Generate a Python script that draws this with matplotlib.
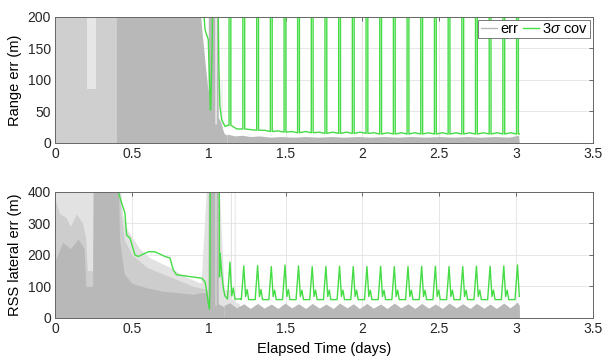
import matplotlib.pyplot as plt
from matplotlib.lines import Line2D

plt.rcParams['font.family'] = ['Liberation Sans', 'DejaVu Sans']
plt.rcParams['font.size'] = 10
plt.rcParams['mathtext.fontset'] = 'custom'
plt.rcParams['mathtext.rm'] = 'Liberation Sans'
plt.rcParams['mathtext.it'] = 'Liberation Sans:italic'

GRAY = '#b8b8b8'
GREEN = '#45dc45'

# === Pass times (days) where the 3-sigma bound spikes ===
pass_days = [1.138, 1.228, 1.318, 1.407, 1.496, 1.584, 1.673, 1.762, 1.851, 1.940, 2.029,
             2.118, 2.207, 2.296, 2.385, 2.474, 2.563, 2.652, 2.741, 2.830, 2.919, 3.008]

# === Range error: Monte Carlo cloud (upper edges of the shaded traces) ===
rng_faint_t = [0.00, 0.40, 0.40, 1.078, 1.080, 1.086, 1.088]
rng_faint_hi = [250, 250, 0, 0, 100, 100, 0]
rng_sparse_t = [0.00, 0.21, 0.21, 0.27, 0.27, 0.405]
rng_sparse_hi = [250, 250, 85, 85, 250, 250]
rng_dense_t = [0.40, 0.93, 0.955, 0.975, 0.99, 0.996, 0.998, 1.040, 1.041, 1.048, 1.049,
               1.060, 1.062, 1.075, 1.090, 1.100, 1.120]
rng_dense_hi = [250, 250, 180, 130, 95, 80, 250, 250, 30, 30, 250,
                250, 40, 35, 22, 15, 12]
rng_floor_t = [1.12, 1.17, 1.22, 1.27, 1.33, 1.40, 1.47, 1.55, 1.63, 1.71, 1.80, 1.88, 1.97,
               2.05, 2.14, 2.23, 2.32, 2.41, 2.50, 2.59, 2.68, 2.77, 2.86, 2.95, 3.015, 3.02]
rng_floor_hi = [14, 11, 12, 10, 11, 9, 10, 9, 10, 9, 10, 9, 10,
                9, 10, 9, 10, 9, 10, 9, 10, 9, 10, 9, 12, 0]

# === Range 3-sigma covariance ===
rng_cov_head_t = [0.954, 0.976, 0.987, 0.997, 1.006, 1.010, 1.013, 1.022, 1.026,
                  1.060, 1.066, 1.073, 1.084, 1.106, 1.125]
rng_cov_head_v = [250, 180, 171, 164, 90, 52, 52, 150, 250,
                  250, 120, 58, 37, 26, 28]
rng_cov_foot = [28, 22, 20, 18, 17, 16, 16, 15, 15, 15, 15,
                14, 14, 14, 14, 14, 14, 14, 14, 14, 14, 14]
rng_cov_mid = [22, 21, 20, 19, 18, 18, 17, 17, 17, 17, 16,
               16, 16, 16, 16, 16, 16, 16, 16, 16, 16]
rng_cov_end = 14

# === RSS lateral error: Monte Carlo cloud ===
lat_faint_t = [0.00, 0.41, 0.44, 0.47, 0.55, 0.62, 0.75, 0.85, 0.95, 0.995, 1.06, 1.10,
               1.140, 1.141, 1.147, 1.148, 1.165, 1.166, 1.171, 1.172, 1.20]
lat_faint_hi = [500, 500, 330, 280, 220, 190, 160, 130, 110, 500, 500, 90,
                90, 500, 500, 60, 60, 500, 500, 50, 45]
lat_mid_t = [0.00, 0.03, 0.07, 0.10, 0.14, 0.18, 0.20, 0.21, 0.245, 0.25, 0.41, 0.43,
             0.45, 0.50, 0.55, 0.60, 0.70, 0.80, 0.90, 0.95, 0.99]
lat_mid_hi = [380, 330, 320, 290, 330, 300, 250, 150, 150, 500, 500, 330,
              250, 200, 180, 160, 140, 120, 100, 95, 90]
lat_dense_t = [0.00, 0.05, 0.10, 0.15, 0.19, 0.20, 0.245, 0.25, 0.41, 0.42, 0.45, 0.50,
               0.60, 0.70, 0.80, 0.90, 0.95, 0.99, 0.995, 0.998, 1.040, 1.041, 1.047,
               1.048, 1.060, 1.062, 1.10]
lat_dense_hi = [180, 240, 220, 250, 220, 100, 100, 500, 500, 250, 140, 110,
                95, 85, 80, 75, 80, 80, 60, 500, 500, 40, 40,
                500, 500, 45, 35]
lat_floor_t = [1.10, 1.138, 1.18, 1.228, 1.27, 1.318, 1.36, 1.407, 1.45, 1.496, 1.54, 1.584,
               1.63, 1.673, 1.72, 1.762, 1.81, 1.851, 1.90, 1.940, 1.98, 2.029, 2.07, 2.118,
               2.16, 2.207, 2.25, 2.296, 2.34, 2.385, 2.43, 2.474, 2.52, 2.563, 2.61, 2.652,
               2.70, 2.741, 2.79, 2.830, 2.87, 2.919, 2.96, 3.008, 3.02, 3.021]
lat_floor_hi = [40, 48, 32, 45, 30, 46, 31, 44, 30, 47, 32, 45,
                30, 46, 31, 44, 30, 47, 32, 45, 30, 46, 31, 44,
                30, 47, 32, 45, 30, 46, 31, 44, 30, 47, 32, 45,
                30, 46, 31, 44, 30, 47, 32, 50, 40, 0]

# === RSS lateral 3-sigma covariance ===
lat_cov_head_t = [0.400, 0.412, 0.434, 0.455, 0.466, 0.488, 0.520, 0.542, 0.607, 0.650,
                  0.716, 0.748, 0.770, 0.790, 0.878, 0.954, 0.976, 0.987, 0.997, 1.005,
                  1.008, 1.010, 1.068, 1.070, 1.074, 1.085, 1.095, 1.105, 1.120]
lat_cov_head_v = [500, 400, 364, 333, 263, 253, 200, 195, 210, 210,
                  195, 190, 152, 137, 131, 126, 115, 83, 47, 28,
                  100, 500, 500, 130, 205, 140, 95, 70, 62]
lat_cov_peak = [177, 165, 166, 163, 168, 165, 163, 163, 164, 163, 163,
                164, 163, 163, 164, 164, 163, 163, 164, 164, 165, 168]
lat_cov_dip = [70, 68, 68, 68, 68, 68, 68, 68, 68, 68, 68,
               68, 68, 68, 68, 68, 68, 68, 68, 68, 68, 68]
lat_cov_bump = [95, 90, 90, 88, 90, 88, 88, 88, 88, 88, 88,
                88, 88, 88, 88, 88, 88, 88, 88, 88, 88]
lat_cov_floor = [60, 58, 58, 58, 58, 58, 58, 58, 58, 58, 58,
                 58, 58, 58, 58, 58, 58, 58, 58, 58, 58, 58]

# === Build the covariance traces ===
rng_t, rng_v = list(rng_cov_head_t), list(rng_cov_head_v)
for i, d in enumerate(pass_days):
    f = rng_cov_foot[i]
    rng_t += [d - 0.006, d - 0.005, d + 0.005, d + 0.006]
    rng_v += [f, 1000, 1000, f]
    if i < len(rng_cov_mid):
        rng_t.append(d + 0.045)
        rng_v.append(rng_cov_mid[i])
rng_t.append(3.02)
rng_v.append(rng_cov_end)

lat_t, lat_v = list(lat_cov_head_t), list(lat_cov_head_v)
for i, d in enumerate(pass_days):
    lat_t += [d - 0.016, d, d + 0.012]
    lat_v += [lat_cov_floor[i], lat_cov_peak[i], lat_cov_dip[i]]
    if i < len(lat_cov_bump):
        lat_t += [d + 0.022, d + 0.032, d + 0.072]
        lat_v += [lat_cov_bump[i], lat_cov_floor[i], lat_cov_floor[i]]


def style_axes(ax, ymax, yticks):
    ax.set_xlim(0, 3.5)
    ax.set_ylim(0, ymax)
    ax.set_xticks([0, 0.5, 1, 1.5, 2, 2.5, 3, 3.5])
    ax.set_xticklabels(['0', '0.5', '1', '1.5', '2', '2.5', '3', '3.5'])
    ax.set_yticks(yticks)
    ax.grid(True, color='#e3e3e3', lw=0.6)
    ax.set_axisbelow(True)
    ax.tick_params(direction='in', length=3, width=0.6, colors='#555555',
                   labelcolor='#262626', labelsize=10, top=True, right=True, pad=3)
    for s in ax.spines.values():
        s.set_color('#666666')
        s.set_linewidth(0.7)


fig = plt.figure(figsize=(6.04, 3.58), dpi=100)
ax1 = fig.add_axes([0.091, 0.601, 0.891, 0.352])
ax2 = fig.add_axes([0.091, 0.112, 0.891, 0.352])

# --- Range error ---
ax1.fill_between(rng_faint_t, 0, rng_faint_hi, color='#e6e6e6', lw=0)
ax1.fill_between(rng_sparse_t, 0, rng_sparse_hi, color='#cfcfcf', lw=0)
ax1.fill_between(rng_dense_t, 0, rng_dense_hi, color=GRAY, lw=0)
ax1.fill_between(rng_floor_t, 0, rng_floor_hi, color=GRAY, lw=0)
ax1.plot(rng_t, rng_v, color=GREEN, lw=1.0)
style_axes(ax1, 200, [0, 50, 100, 150, 200])
ax1.set_ylabel('Range err (m)', fontsize=10.5)
ax1.yaxis.set_label_coords(-0.062, 0.5)

handles = [Line2D([], [], color=GRAY, lw=1), Line2D([], [], color=GREEN, lw=1)]
leg = ax1.legend(handles, ['err', r'3$\sigma$ cov'], loc='upper right', ncol=2,
                 handlelength=1.1, handletextpad=0.25, columnspacing=0.3,
                 borderpad=0.15, borderaxespad=0.2, fancybox=False,
                 edgecolor='#666666', framealpha=1, fontsize=10.5)
leg.get_frame().set_linewidth(0.6)

# --- RSS lateral error ---
ax2.fill_between(lat_faint_t, 0, lat_faint_hi, color='#e2e2e2', lw=0)
ax2.fill_between(lat_mid_t, 0, lat_mid_hi, color='#cdcdcd', lw=0)
ax2.fill_between(lat_dense_t, 0, lat_dense_hi, color=GRAY, lw=0)
ax2.fill_between(lat_floor_t, 0, lat_floor_hi, color=GRAY, lw=0)
ax2.plot(lat_t, lat_v, color=GREEN, lw=1.0)
style_axes(ax2, 400, [0, 100, 200, 300, 400])
ax2.set_ylabel('RSS lateral err (m)', fontsize=10.5)
ax2.yaxis.set_label_coords(-0.062, 0.5)
ax2.set_xlabel('Elapsed Time (days)', fontsize=10.5)

fig.savefig('out.png', dpi=100)
